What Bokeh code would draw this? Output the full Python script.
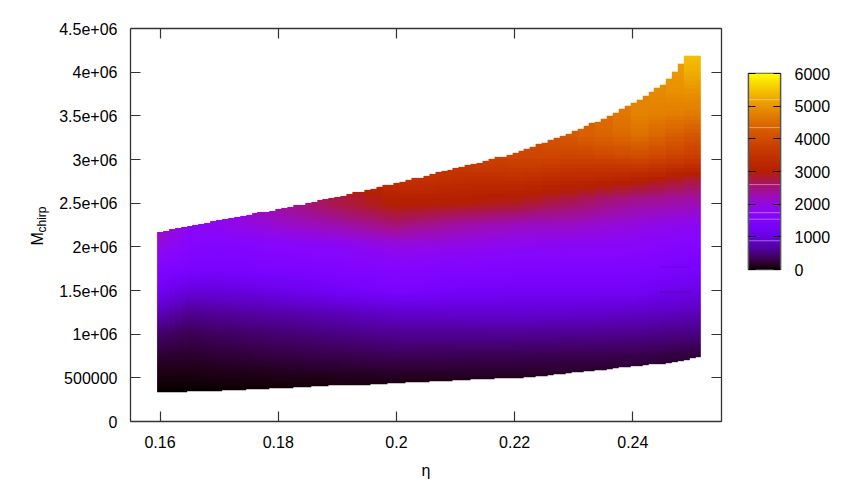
import math
import numpy as np
from bokeh.plotting import figure
from bokeh.layouts import row
from bokeh.core.properties import value
from bokeh.models import (LinearAxis, LinearColorMapper, FixedTicker, Range1d)
from bokeh.embed import file_html
from bokeh.resources import INLINE

# ---- values ----
x_ticks = [0.16, 0.18, 0.20, 0.22, 0.24]
x_tick_labels = ["0.16", "0.18", "0.2", "0.22", "0.24"]
y_ticks = [0, 5e5, 1e6, 1.5e6, 2e6, 2.5e6, 3e6, 3.5e6, 4e6, 4.5e6]
y_tick_labels = ["0", "500000", "1e+06", "1.5e+06", "2e+06", "2.5e+06", "3e+06", "3.5e+06", "4e+06", "4.5e+06"]
cb_ticks = [0, 1000, 2000, 3000, 4000, 5000, 6000]
cb_stripes = [880, 1540, 1740, 2600, 4345, 5200]

top_eta = [.160, .170, .181, .192, .2007, .2119, .220, .2277, .2345, .2368, .2387, .2407, .2416, .2426, .2434, .2450, .2458, .2467, .2477, .2487, .2515]
top_M = [2.17, 2.30, 2.44, 2.60, 2.74, 2.93, 3.07, 3.26, 3.45, 3.53, 3.60, 3.67, 3.71, 3.75, 3.80, 3.85, 3.91, 3.98, 4.06, 4.18, 4.18]
bottom_eta = [.160, .170, .181, .192, .2035, .220, .2277, .239, .2446, .2515]
bottom_M = [.332, .350, .375, .410, .445, .490, .535, .620, .650, .730]

M_rows = [.3, .5, .75, 1.0, 1.25, 1.5, 1.75, 2.0, 2.25, 2.5, 2.75, 3.0, 3.25, 3.5, 3.75, 4.0, 4.2]
eta_cols = [.160, .165, .170, .180, .190, .200, .210, .220, .230, .240, .245, .250]
v_160 = [0, 60, 200, 420, 800, 1200, 1500, 1950, 2300]
v_165 = [0, 60, 180, 330, 600, 1000, 1400, 1600, 1800]
v_170 = [0, 70, 210, 380, 650, 1000, 1380, 1550, 1850]
v_180 = [0, 90, 260, 450, 720, 1100, 1450, 1650, 2100, 2400]
v_190 = [0, 110, 300, 520, 800, 1250, 1520, 1750, 2300, 2750, 3050]
v_200 = [0, 130, 340, 600, 900, 1400, 1600, 1950, 2550, 3050, 3500]
v_210 = [0, 130, 330, 600, 920, 1300, 1550, 1900, 2350, 3000, 3400, 3800]
v_220 = [0, 130, 320, 600, 950, 1250, 1500, 1800, 2200, 2900, 3400, 3900]
v_230 = [0, 130, 310, 590, 920, 1250, 1500, 1750, 2150, 2650, 3250, 3850, 4300]
v_240 = [0, 130, 300, 570, 880, 1250, 1500, 1700, 2000, 2400, 3100, 4000, 4550, 4800]
v_245 = [0, 130, 270, 540, 840, 1180, 1450, 1620, 1900, 2350, 2950, 3850, 4350, 4750, 4950]
v_250 = [0, 130, 230, 520, 800, 1100, 1350, 1550, 1800, 2300, 2800, 3700, 4150, 4700, 5000, 5400, 5600]
columns = [v_160, v_165, v_170, v_180, v_190, v_200, v_210, v_220, v_230, v_240, v_245, v_250]

# small darker streaks visible at the right: eta0, eta1, M0, M1, value
streak_eta0 = [.2445, .2445]
streak_eta1 = [.2495, .2495]
streak_M0 = [1.75, 1.465]
streak_M1 = [1.78, 1.49]
streak_val = [1150, 880]

# ---- gnuplot's default palette (rgbformulae 7,5,15) ----
palette = []
for i in range(256):
    t = i / 255
    r, g, b = math.sqrt(t), t ** 3, max(0.0, math.sin(2 * math.pi * t))
    palette.append("#%02x%02x%02x" % (round(r * 255), round(g * 255), round(b * 255)))
mapper = LinearColorMapper(palette=palette, low=0, high=6000, nan_color="#00000000")

# ---- display shading between the read samples (like pm3d interpolate) ----
STEP = 0.001
cell_eta = np.arange(.160, .2512, STEP)
M_fine = np.linspace(.3, 4.2, 390)
profiles = np.array([np.interp(M_fine, M_rows[:len(c)], c) for c in columns])
grid = np.full((len(M_fine), len(cell_eta) * 6), np.nan)
for i, e in enumerate(cell_eta):
    lo = np.interp(e, bottom_eta, bottom_M)
    hi = np.interp(e, top_eta, top_M)
    vals = np.array([np.interp(e, eta_cols, profiles[:, k]) for k in range(len(M_fine))])
    # upper region of the reference is blocky: coarser shading there
    e_block = math.floor(e / .003) * .003
    for k, m in enumerate(M_fine):
        if m > 2.5:
            m_block = math.floor(m / .05) * .05
            vals[k] = np.interp(e_block, eta_cols,
                                [np.interp(m_block, M_rows[:len(c)], c) for c in columns])
    for e0, e1, m0, m1, v in zip(streak_eta0, streak_eta1, streak_M0, streak_M1, streak_val):
        if e0 <= e <= e1:
            vals[(M_fine >= m0) & (M_fine <= m1)] = v
    vals[(M_fine < lo) | (M_fine > hi)] = np.nan
    grid[:, i * 6:(i + 1) * 6] = vals[:, None]

LINE = "#333333"
FONT = "Liberation Sans"
FS = "16px"
H = 483

def style_axis(ax, ticks, labels, tick_len):
    ax.ticker = FixedTicker(ticks=ticks)
    ax.major_label_overrides = dict(zip(ticks, labels))
    ax.major_tick_in = tick_len
    ax.major_tick_out = 0
    ax.minor_tick_line_color = None
    ax.major_tick_line_color = LINE
    ax.major_tick_line_width = 1.2
    ax.axis_line_color = LINE
    ax.axis_line_width = 1.3
    ax.major_label_text_font = FONT
    ax.major_label_text_font_size = FS
    ax.major_label_text_color = "black"

# ---- rotated y title with its subscript ----
lab = figure(width=50, height=H, output_backend="svg", toolbar_location=None,
             x_range=Range1d(0, 50), y_range=Range1d(H, 0),
             x_axis_type=None, y_axis_type=None, frame_align=False,
             min_border_left=0, min_border_right=0, min_border_top=0, min_border_bottom=0)
lab.grid.visible = False
lab.outline_line_color = None
lab.text(x=[37], y=[245], text=["M"], angle=math.pi / 2, text_font=value(FONT), text_font_size=value(FS),
         text_color="black", text_align="left", text_baseline="alphabetic")
lab.text(x=[41], y=[232], text=["chirp"], angle=math.pi / 2, text_font=value(FONT), text_font_size=value("12px"),
         text_color="black", text_align="left", text_baseline="alphabetic")

p = figure(width=688, height=H, output_backend="svg", toolbar_location=None,
           x_range=Range1d(.155, .255), y_range=Range1d(0, 4.5e6),
           x_axis_type=None, y_axis_type=None, frame_align=False,
           min_border_left=80, min_border_right=17, min_border_top=28, min_border_bottom=62)
p.grid.visible = False
p.outline_line_color = None
p.background_fill_color = "white"
p.image(image=[grid], x=.1595, y=.3e6, dw=.092, dh=3.9e6, color_mapper=mapper)

xb = LinearAxis(); style_axis(xb, x_ticks, x_tick_labels, 10)
xb.major_label_standoff = 14
xb.axis_label = "η"
xb.axis_label_text_font = FONT
xb.axis_label_text_font_size = FS
xb.axis_label_text_font_style = "normal"
xb.axis_label_text_color = "black"
xb.axis_label_standoff = 11
p.add_layout(xb, "below")
yl = LinearAxis(); style_axis(yl, y_ticks, y_tick_labels, 10)
yl.major_label_standoff = 13
p.add_layout(yl, "left")
xt = LinearAxis(); style_axis(xt, x_ticks, [""] * len(x_ticks), 10)
xt.major_label_text_font_size = "1px"; xt.major_label_standoff = 0
p.add_layout(xt, "above")
yr = LinearAxis(); style_axis(yr, y_ticks, [""] * len(y_ticks), 10)
yr.major_label_text_font_size = "1px"; yr.major_label_standoff = 0
p.add_layout(yr, "right")

# ---- colour box ----
cb = figure(width=106, height=H, output_backend="svg", toolbar_location=None,
            x_range=Range1d(0, 1), y_range=Range1d(0, 6000),
            x_axis_type=None, y_axis_type=None, frame_align=False,
            min_border_left=10, min_border_right=64, min_border_top=73, min_border_bottom=214)
cb.grid.visible = False
cb.outline_line_color = "#555555"
cb.outline_line_width = 1.5
ramp = np.linspace(0, 6000, 256).reshape(-1, 1)
cb.image(image=[ramp], x=0, y=0, dw=1, dh=6000, color_mapper=mapper)
cb.segment(x0=[0] * len(cb_stripes), x1=[1] * len(cb_stripes), y0=cb_stripes, y1=cb_stripes,
           line_color="white", line_alpha=0.4, line_width=1)
cr = LinearAxis(); style_axis(cr, cb_ticks, [str(t) for t in cb_ticks], 7)
cr.major_tick_line_color = "black"; cr.axis_line_color = "#555555"
cr.major_label_standoff = 14
cb.add_layout(cr, "right")
cl = LinearAxis(); style_axis(cl, cb_ticks, [""] * len(cb_ticks), 7)
cl.major_tick_line_color = "black"; cl.axis_line_color = "#555555"
cl.major_label_text_font_size = "1px"; cl.major_label_standoff = 0
cb.add_layout(cl, "left")

layout = row(lab, p, cb)
open("out.html", "w").write(file_html(layout, INLINE))
